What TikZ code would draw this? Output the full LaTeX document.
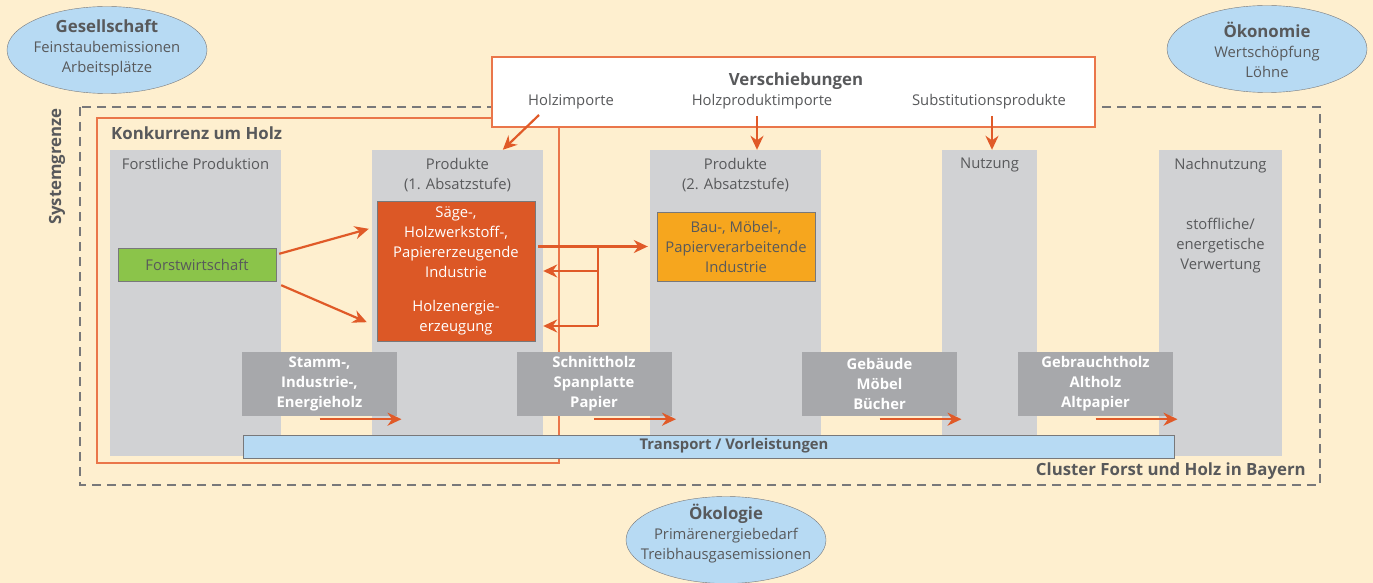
\documentclass[tikz,border=0pt]{standalone}
\usepackage{fontspec}
\setmainfont{Open Sans}
\usepackage{tikz}
\usetikzlibrary{arrows.meta}
\usetikzlibrary{shapes.geometric}

\definecolor{creme}{RGB}{254,239,207}
\definecolor{saeulengrau}{RGB}{209,210,212}
\definecolor{kastengrau}{RGB}{167,168,171}
\definecolor{textgrau}{RGB}{88,89,91}
\definecolor{rostrot}{RGB}{220,88,38}
\definecolor{pfeilrot}{RGB}{224,90,40}
\definecolor{lachs}{RGB}{234,118,74}
\definecolor{gruen}{RGB}{139,196,74}
\definecolor{ocker}{RGB}{246,166,30}
\definecolor{hellblau}{RGB}{183,218,243}
\definecolor{randgrau}{RGB}{120,120,122}

\newcommand{\grundfont}{\fontsize{14.8}{20}\selectfont}
\newcommand{\titelfont}{\bfseries\fontsize{16.8}{20}\selectfont}

\tikzset{
  saeule/.style={fill=saeulengrau, inner sep=0pt},
  titel/.style={text=textgrau, font=\grundfont, align=center, anchor=north, inner sep=0pt},
  kasten/.style={fill=kastengrau, text=white, font=\bfseries\grundfont, align=center,
    minimum width=155, minimum height=64, inner sep=0pt},
  pfeil/.style={draw=pfeilrot, line width=2.2pt, -{Stealth[length=14pt,width=13pt]}},
  aspekt/.style={ellipse, draw=randgrau, fill=hellblau, minimum width=200, minimum height=87, inner sep=0pt},
  aspekttext/.style={align=center, text=textgrau, font=\grundfont, inner sep=0pt},
  systemrand/.style={draw=randgrau, line width=1.6pt, dash pattern=on 9pt off 6pt},
  lachsrand/.style={draw=lachs, line width=1.5pt}
}

\begin{document}
\begin{tikzpicture}[x=1pt,y=-1pt]
  \useasboundingbox[fill=creme] (0,0) rectangle (1373,583);

  % Systemgrenze und Konkurrenz um Holz
  \draw[systemrand] (80,107) rectangle (1320,485);
  \node[rotate=90, anchor=east, text=textgrau, font=\titelfont, inner sep=0pt] (systemgrenze) at (57,108) {Systemgrenze};
  \node[anchor=east, text=textgrau, font=\titelfont, inner sep=0pt] (cluster) at (1306,471) {Cluster Forst und Holz in Bayern};

  \draw[lachsrand] (97,118) rectangle (559,463);
  \node[anchor=west, text=textgrau, font=\titelfont, inner sep=0pt] (konkurrenz) at (111,133) {Konkurrenz um Holz};

  % Saeulen
  \node[saeule, minimum width=171, minimum height=306] (forst) at (195.5,303) {};
  \node[saeule, minimum width=171, minimum height=290] (prod1) at (457.5,295) {};
  \node[saeule, minimum width=171, minimum height=290] (prod2) at (735.5,295) {};
  \node[saeule, minimum width=95, minimum height=290] (nutzung) at (989.5,295) {};
  \node[saeule, minimum width=123, minimum height=306] (nach) at (1220.5,303) {};

  \node[titel] (forsttitel) at ([yshift=-8]forst.north) {Forstliche Produktion};
  \node[titel] (prod1titel) at ([yshift=-8]prod1.north) {Produkte\\(1. Absatzstufe)};
  \node[titel] (prod2titel) at ([yshift=-8]prod2.north) {Produkte\\(2. Absatzstufe)};
  \node[titel] (nutzungtitel) at ([yshift=-8]nutzung.north) {Nutzung};
  \node[titel] (nachtitel) at ([yshift=-8]nach.north) {Nachnutzung};
  \node[titel, anchor=center] (verwertung) at (1220.5,246) {stoffliche/\\energetische\\Verwertung};

  % Verschiebungen
  \node[draw=lachs, line width=1.5pt, fill=white, minimum width=603, minimum height=70, inner sep=0pt] (verschiebungen) at (793.5,92) {};
  \node[text=textgrau, font=\titelfont, inner sep=0pt] (verschtitel) at (796,81) {Verschiebungen};
  \node[text=textgrau, font=\grundfont, inner sep=0pt] (holzimp) at (571,102) {Holzimporte};
  \node[text=textgrau, font=\grundfont, inner sep=0pt] (hprodimp) at (762,102) {Holzproduktimporte};
  \node[text=textgrau, font=\grundfont, inner sep=0pt] (subst) at (989,102) {Substitutionsprodukte};

  % Industrie
  \node[draw=randgrau, fill=rostrot, text=white, font=\grundfont, align=center, minimum width=158, minimum height=140, inner sep=0pt]
    (saege) at (456,271) {Säge-,\\Holzwerkstoff-,\\Papiererzeugende\\Industrie\\[14pt]Holzenergie-\\erzeugung};
  \node[draw=randgrau, fill=gruen, text=textgrau, font=\grundfont, minimum width=158, minimum height=33, inner sep=0pt]
    (forstw) at (197,264.5) {Forstwirtschaft};
  \node[draw=randgrau, fill=ocker, text=textgrau, font=\grundfont, align=center, minimum width=158, minimum height=69, inner sep=0pt]
    (bau) at (736,246.5) {Bau-, Möbel-,\\Papierverarbeitende\\Industrie};

  % Stoffstroeme
  \node[kasten] (stamm) at (319.5,384) {Stamm-,\\Industrie-,\\Energieholz};
  \node[kasten] (schnitt) at (594,384) {Schnittholz\\Spanplatte\\Papier};
  \node[kasten] (gebaeude) at (879.5,384) {Gebäude\\Möbel\\Bücher};
  \node[kasten] (gebraucht) at (1095.5,384) {Gebrauchtholz\\Altholz\\Altpapier};

  \node[draw=randgrau, line width=1pt, fill=hellblau, minimum width=931, minimum height=23, inner sep=0pt] (transport) at (708.5,446.5) {};
  \node[text=textgrau, font=\bfseries\grundfont, inner sep=0pt] (transporttext) at (734,446) {Transport / Vorleistungen};

  % Pfeile
  \foreach \k in {stamm,schnitt,gebaeude,gebraucht}
    \draw[pfeil] ([yshift=-3]\k.south) -- ([xshift=82,yshift=-3]\k.south);

  \draw[pfeil] ([xshift=3,yshift=-6]forstw.north east) -- ([xshift=-8,yshift=-28]saege.north west);
  \draw[pfeil] ([xshift=5,yshift=-4]forstw.south east) -- ([xshift=-10,yshift=19]saege.south west);

  \coordinate (abzweig) at (598,246.5);
  \coordinate (abzweigunten) at (598,326);
  \draw[pfeil] ([xshift=3]saege.east |- bau.west) -- ([xshift=-9]bau.west);
  \draw[draw=pfeilrot, line width=2.2pt] (abzweig) -- (abzweigunten);
  \draw[pfeil] (abzweig |- saege.east) -- ([xshift=8]saege.east);
  \draw[pfeil] (abzweigunten) -- ([xshift=8]saege.east |- abzweigunten);

  \draw[pfeil] ([xshift=-32,yshift=-13]holzimp.center) -- ([xshift=131]prod1.north west);
  \draw[pfeil] ([xshift=-5,yshift=-14]hprodimp.center) -- ([xshift=-5]hprodimp.center |- prod2.north);
  \draw[pfeil] ([xshift=3,yshift=-14]subst.center) -- ([xshift=3]subst.center |- nutzung.north);

  % Aspekte der Nachhaltigkeit
  \node[aspekt] (gesellschaft) at (107,50) {};
  \node[aspekttext] (gesellschafttext) at (107,48) {{\titelfont Gesellschaft}\\Feinstaubemissionen\\Arbeitsplätze};
  \node[aspekt] (oekonomie) at (1267,49) {};
  \node[aspekttext] (oekonomietext) at (1267,50) {{\titelfont Ökonomie}\\Wertschöpfung\\Löhne};
  \node[aspekt] (oekologie) at (726,540) {};
  \node[aspekttext] (oekologietext) at (726,534) {{\titelfont Ökologie}\\Primärenergiebedarf\\Treibhausgasemissionen};
\end{tikzpicture}
\end{document}
